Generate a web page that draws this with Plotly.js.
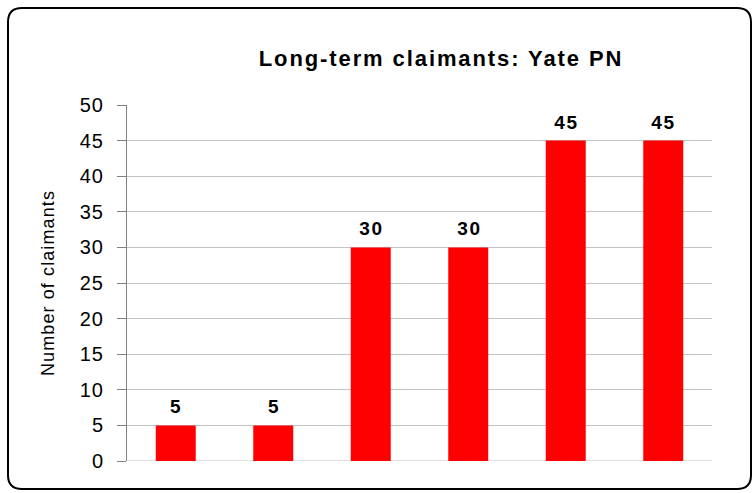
<!DOCTYPE html>
<html>
<head>
<meta charset="utf-8">
<script src="https://cdn.plot.ly/plotly-3.0.1.min.js"></script>
<style>
html,body{margin:0;padding:0;background:#fff;}
#chart{width:755px;height:493px;}
#chart .ytick text{letter-spacing:1px;}
#chart .gtitle{letter-spacing:1.9px;}
#chart .ytitle{letter-spacing:1.1px;}
#chart .annotation-text{letter-spacing:1.8px;}
</style>
</head>
<body>
<div id="chart"></div>
<script>
const categories = ["A", "B", "C", "D", "E", "F"];
const claimants = [5, 5, 30, 30, 45, 45];
const yTicks = [0, 5, 10, 15, 20, 25, 30, 35, 40, 45, 50];
const chartTitle = "Long-term claimants: Yate PN";
const yTitle = "Number of claimants";

const W = 755, H = 493;
const mL = 127, mR = 43, mT = 105, mB = 32;
const pw = W - mL - mR, ph = H - mT - mB;
const px = x => (x - mL) / pw;
const py = y => (H - mB - y) / ph;

// rounded border path in paper coords
const bx0 = 8, bx1 = 751, by0 = 8, by1 = 489, r = 14;
function P(x, y){ return px(x).toFixed(5) + "," + py(y).toFixed(5); }
const borderPath = "M" + P(bx0 + r, by0) + " L" + P(bx1 - r, by0) +
  " Q" + P(bx1, by0) + " " + P(bx1, by0 + r) +
  " L" + P(bx1, by1 - r) + " Q" + P(bx1, by1) + " " + P(bx1 - r, by1) +
  " L" + P(bx0 + r, by1) + " Q" + P(bx0, by1) + " " + P(bx0, by1 - r) +
  " L" + P(bx0, by0 + r) + " Q" + P(bx0, by0) + " " + P(bx0 + r, by0) + " Z";

const FONT = "Liberation Sans, Arial, sans-serif";

const trace = {
  type: "bar",
  x: categories,
  y: claimants,
  marker: {color: "#ff0000"},
  hoverinfo: "skip"
};

const annotations = categories.map((c, i) => ({
  x: c, y: claimants[i], xref: "x", yref: "y",
  text: "<b>" + claimants[i] + "</b>", showarrow: false,
  yanchor: "bottom", yshift: 6, xshift: 1,
  font: {family: FONT, size: 19, color: "#000"}
}));

const layout = {
  width: W, height: H,
  margin: {l: mL, r: mR, t: mT, b: mB, pad: 0},
  paper_bgcolor: "#fff", plot_bgcolor: "#fff",
  showlegend: false,
  bargap: 0.59,
  font: {family: FONT, color: "#000"},
  title: {
    text: "<b>" + chartTitle + "</b>",
    x: px(441), xref: "paper", xanchor: "center",
    y: 1 - 58 / H, yanchor: "middle",
    font: {size: 22, family: FONT, color: "#000"}
  },
  xaxis: {
    showticklabels: false, ticks: "", showgrid: false, zeroline: false,
    showline: false, fixedrange: true
  },
  yaxis: {
    range: [0, 50], tickvals: yTicks, ticks: "outside", ticklen: 9,
    tickcolor: "#808080", showline: true, linecolor: "#808080", linewidth: 1,
    gridcolor: "#c4c4c4", gridwidth: 1, zeroline: false,
    ticklabelstandoff: 9,
    tickfont: {size: 20, family: FONT, color: "#000"},
    title: {text: yTitle, standoff: 22,
      font: {size: 18, family: FONT, color: "#000"}}
  },
  annotations: annotations,
  shapes: [{
    type: "path", xref: "paper", yref: "paper", path: borderPath,
    line: {color: "#000", width: 2}, fillcolor: "rgba(0,0,0,0)", layer: "above"
  }, {
    type: "line", xref: "paper", yref: "y", x0: 0, x1: 1, y0: 0, y1: 0,
    line: {color: "#c4c4c4", width: 1}, layer: "below"
  }]
};

Plotly.newPlot("chart", [trace], layout, {displayModeBar: false, staticPlot: true});
</script>
</body>
</html>
